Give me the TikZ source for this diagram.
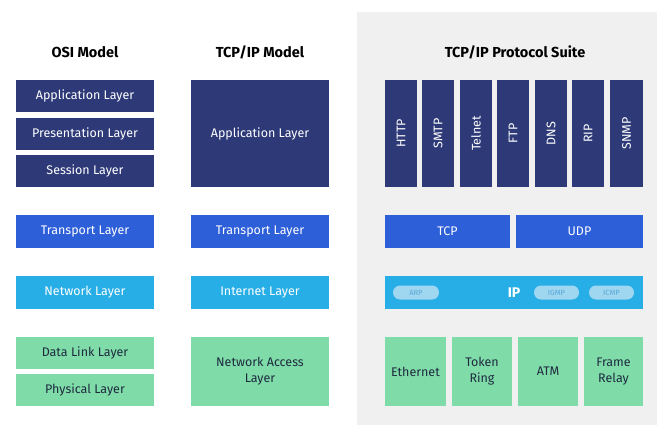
\documentclass[tikz,border=0pt]{standalone}
\usepackage{fontspec}
\setmainfont{Fira Sans}
\definecolor{navy}{HTML}{2E3A78}
\definecolor{tblue}{HTML}{2D5FD8}
\definecolor{cyanb}{HTML}{27AEE6}
\definecolor{greenb}{HTML}{7FDCA8}
\definecolor{panel}{HTML}{F0F0F0}
\definecolor{pill}{HTML}{9FD6F0}
\definecolor{pilltxt}{HTML}{5AA6D6}
\definecolor{dtxt}{HTML}{1E2A40}
\begin{document}
\begin{tikzpicture}[x=1pt,y=-1pt,
  box/.style={inner sep=0pt,text=white,font=\fontsize{12.5}{14}\selectfont,align=center},
  hdr/.style={font=\bfseries\fontsize{14.5}{16}\selectfont},
  pl/.style={fill=pill,rounded corners=7pt,text=pilltxt,font=\fontsize{7.5}{8}\selectfont,inner sep=0pt}]
\useasboundingbox (0,0) rectangle (661,425);
\fill[white] (0,0) rectangle (661,425);
\fill[panel] (357,12) rectangle (657,425);
\node[hdr] (h1) at (85,52) {OSI Model};
\node[hdr] (h2) at (260,52) {TCP/IP Model};
\node[hdr] (h3) at (515,52) {TCP/IP Protocol Suite};
\newcommand{\bx}[7]{\fill[#6] (#2,#3) rectangle (#4,#5); \node[box,#7] (#1) at ({(#2+#4)/2},{(#3+#5)/2})}
\bx{a1}{16}{80}{154}{112}{navy}{}{Application Layer};
\bx{a2}{16}{118}{154}{150}{navy}{}{Presentation Layer};
\bx{a3}{16}{155}{154}{187}{navy}{}{Session Layer};
\bx{a4}{16}{215}{154}{248}{tblue}{}{Transport Layer};
\bx{a5}{16}{276}{154}{309}{cyanb}{}{Network Layer};
\bx{a6}{16}{337}{154}{369}{greenb}{text=dtxt}{Data Link Layer};
\bx{a7}{16}{374}{154}{406}{greenb}{text=dtxt}{Physical Layer};
\bx{b1}{191}{80}{329}{187}{navy}{}{Application Layer};
\bx{b2}{191}{215}{329}{248}{tblue}{}{Transport Layer};
\bx{b3}{191}{276}{329}{309}{cyanb}{}{Internet Layer};
\bx{b4}{191}{337}{329}{406}{greenb}{text=dtxt}{Network Access\\[2pt]Layer};
\bx{p1}{385}{80}{417}{187}{navy}{rotate=90}{HTTP};
\bx{p2}{422}{80}{454}{187}{navy}{rotate=90}{SMTP};
\bx{p3}{460}{80}{492}{187}{navy}{rotate=90}{Telnet};
\bx{p4}{497}{80}{529}{187}{navy}{rotate=90}{FTP};
\bx{p5}{535}{80}{567}{187}{navy}{rotate=90}{DNS};
\bx{p6}{572}{80}{604}{187}{navy}{rotate=90}{RIP};
\bx{p7}{610}{80}{643}{187}{navy}{rotate=90}{SNMP};
\bx{tcp}{385}{215}{510}{248}{tblue}{}{TCP};
\bx{udp}{516}{215}{643}{248}{tblue}{}{UDP};
\fill[cyanb] (385,276) rectangle (643,309);
\node[box,font=\bfseries\fontsize{14}{16}\selectfont] (ip) at (514,292.5) {IP};
\node[pl,minimum width=46pt,minimum height=14pt] (arp) at (416,292.5) {ARP};
\node[pl,minimum width=45pt,minimum height=14pt] (igmp) at (556.5,292.5) {IGMP};
\node[pl,minimum width=45pt,minimum height=14pt] (icmp) at (611.5,292.5) {ICMP};
\bx{e1}{385}{337}{446}{406}{greenb}{text=dtxt}{Ethernet};
\bx{e2}{452}{337}{512}{406}{greenb}{text=dtxt}{Token\\[2pt]Ring};
\bx{e3}{518}{337}{578}{406}{greenb}{text=dtxt}{ATM};
\bx{e4}{584}{337}{643}{406}{greenb}{text=dtxt}{Frame\\[2pt]Relay};
\end{tikzpicture}
\end{document}
